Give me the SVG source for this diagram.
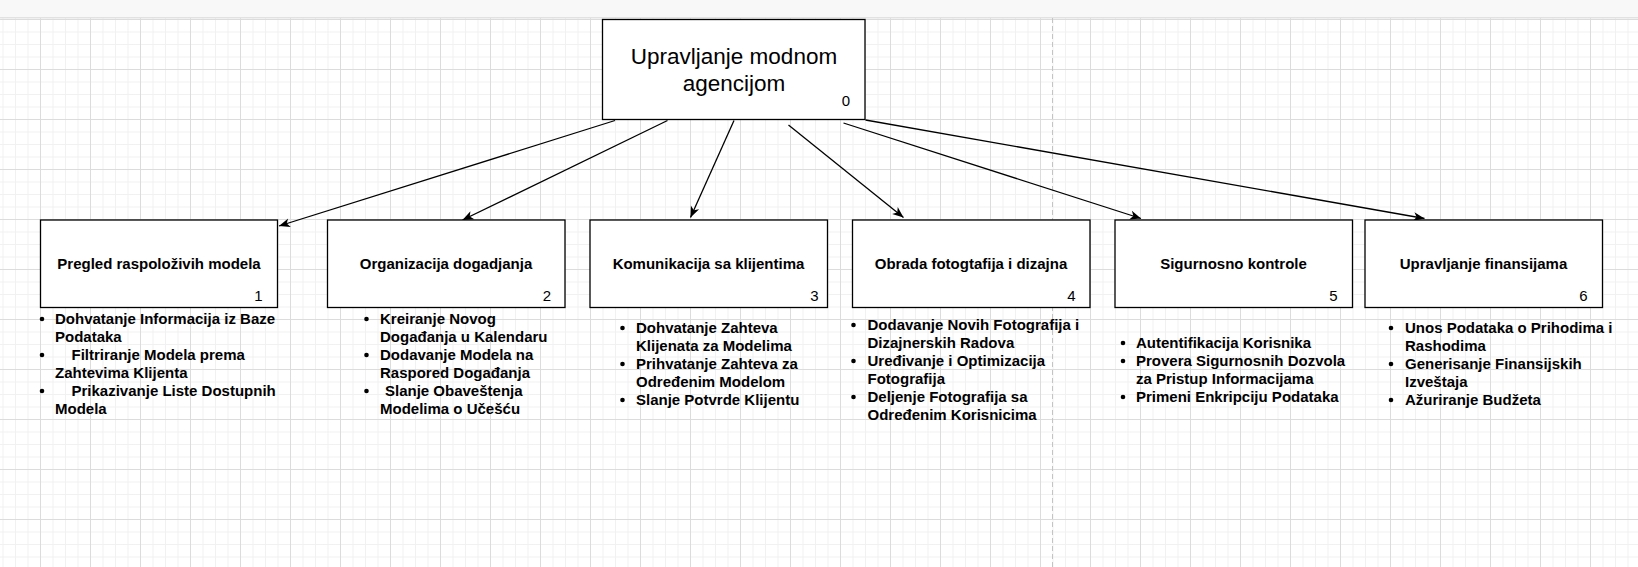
<svg xmlns="http://www.w3.org/2000/svg" width="1638" height="567" viewBox="0 0 1638 567">
  <defs>
    <style>
      .t { font-family: "Liberation Sans", Arial, Helvetica, sans-serif; fill: #000; }
      .title { font-size: 15px; font-weight: bold; text-anchor: middle; }
      .num { font-size: 15px; text-anchor: end; }
      .li { font-size: 15px; font-weight: bold; }
      .root { font-size: 22.5px; text-anchor: middle; }
      .box { fill: #fff; stroke: #000; stroke-width: 1.3; }
      .dot { fill: #000; }
      .edge { stroke: #000; stroke-width: 1.3; fill: none; marker-end: url(#arr); }
    </style>
    <pattern id="grid" patternUnits="userSpaceOnUse" x="40" y="19" width="50" height="50">
      <rect x="0" y="0" width="50" height="50" fill="#fff"/>
      <rect x="12.5" y="0" width="1" height="50" fill="#f1f1f1"/>
      <rect x="25" y="0" width="1" height="50" fill="#f1f1f1"/>
      <rect x="37.5" y="0" width="1" height="50" fill="#f1f1f1"/>
      <rect x="0" y="12.5" width="50" height="1" fill="#f1f1f1"/>
      <rect x="0" y="25" width="50" height="1" fill="#f1f1f1"/>
      <rect x="0" y="37.5" width="50" height="1" fill="#f1f1f1"/>
      <rect x="0" y="0" width="1" height="50" fill="#dcdcdc"/>
      <rect x="0" y="0" width="50" height="1" fill="#dcdcdc"/>
    </pattern>
    <marker id="arr" markerUnits="userSpaceOnUse" markerWidth="14" markerHeight="12" viewBox="-12 -6 14 12" refX="0" refY="0" orient="auto">
      <path d="M0,0 L-11,-4.5 L-8,0 L-11,4.5 Z" fill="#000"/>
    </marker>
  </defs>

  <g id="background">
    <rect x="0" y="0" width="1638" height="567" fill="#fff"/>
    <rect x="0" y="18" width="1638" height="549" fill="url(#grid)"/>
    <rect x="0" y="0" width="1638" height="17" fill="#f8f8f8"/>
    <rect x="0" y="17" width="1638" height="1.5" fill="#e2e2e2"/>
    <line x1="1052.5" y1="18" x2="1052.5" y2="567" stroke="#c4c4c4" stroke-width="1" stroke-dasharray="5 3"/>
  </g>

  <g id="connectors">
    <line class="edge" x1="615" y1="120.5" x2="279" y2="226"/>
    <line class="edge" x1="667.5" y1="120.5" x2="462.5" y2="220"/>
    <line class="edge" x1="734" y1="120.5" x2="690.5" y2="217.5"/>
    <line class="edge" x1="788.5" y1="125" x2="903.5" y2="217.5"/>
    <line class="edge" x1="843.5" y1="123" x2="1141" y2="218.5"/>
    <line class="edge" x1="865.5" y1="120" x2="1424.5" y2="218.5"/>
  </g>

  <g id="node0">
    <rect class="box" x="602.5" y="19.5" width="262.5" height="100"/>
    <text class="t root" x="734" y="64">Upravljanje modnom</text>
    <text class="t root" x="734" y="90.5">agencijom</text>
    <text class="t num" x="850" y="105.5">0</text>
  </g>

  <g id="node1">
    <rect class="box" x="40.5" y="220" width="237" height="87.5"/>
    <text class="t title" x="159" y="269">Pregled raspoloživih modela</text>
    <text class="t num" x="262.5" y="300.5">1</text>
    <circle class="dot" cx="42" cy="319" r="2.3"/>
    <circle class="dot" cx="42" cy="355" r="2.3"/>
    <circle class="dot" cx="42" cy="391" r="2.3"/>
    <text class="t li" x="55" y="324">Dohvatanje Informacija iz Baze</text>
    <text class="t li" x="55" y="342">Podataka</text>
    <text class="t li" x="71.5" y="360">Filtriranje Modela prema</text>
    <text class="t li" x="55" y="378">Zahtevima Klijenta</text>
    <text class="t li" x="71.5" y="396">Prikazivanje Liste Dostupnih</text>
    <text class="t li" x="55" y="414">Modela</text>
  </g>

  <g id="node2">
    <rect class="box" x="327.5" y="220" width="237.5" height="87.5"/>
    <text class="t title" x="446" y="269">Organizacija dogadjanja</text>
    <text class="t num" x="551" y="300.5">2</text>
    <circle class="dot" cx="366.5" cy="319" r="2.3"/>
    <circle class="dot" cx="366.5" cy="355" r="2.3"/>
    <circle class="dot" cx="366.5" cy="391" r="2.3"/>
    <text class="t li" x="380" y="324">Kreiranje Novog</text>
    <text class="t li" x="380" y="342">Događanja u Kalendaru</text>
    <text class="t li" x="380" y="360">Dodavanje Modela na</text>
    <text class="t li" x="380" y="378">Raspored Događanja</text>
    <text class="t li" x="385" y="396">Slanje Obaveštenja</text>
    <text class="t li" x="380" y="414">Modelima o Učešću</text>
  </g>

  <g id="node3">
    <rect class="box" x="590" y="220" width="237.5" height="87.5"/>
    <text class="t title" x="708.5" y="269">Komunikacija sa klijentima</text>
    <text class="t num" x="818.5" y="300.5">3</text>
    <circle class="dot" cx="622.5" cy="328" r="2.3"/>
    <circle class="dot" cx="622.5" cy="364" r="2.3"/>
    <circle class="dot" cx="622.5" cy="400" r="2.3"/>
    <text class="t li" x="636" y="333">Dohvatanje Zahteva</text>
    <text class="t li" x="636" y="351">Klijenata za Modelima</text>
    <text class="t li" x="636" y="369">Prihvatanje Zahteva za</text>
    <text class="t li" x="636" y="387">Određenim Modelom</text>
    <text class="t li" x="636" y="405">Slanje Potvrde Klijentu</text>
  </g>

  <g id="node4">
    <rect class="box" x="852.5" y="220" width="237.5" height="87.5"/>
    <text class="t title" x="971" y="269">Obrada fotogtafija i dizajna</text>
    <text class="t num" x="1075.5" y="300.5">4</text>
    <circle class="dot" cx="853.5" cy="325" r="2.3"/>
    <circle class="dot" cx="853.5" cy="361" r="2.3"/>
    <circle class="dot" cx="853.5" cy="397" r="2.3"/>
    <text class="t li" x="867.5" y="330">Dodavanje Novih Fotografija i</text>
    <text class="t li" x="867.5" y="348">Dizajnerskih Radova</text>
    <text class="t li" x="867.5" y="366">Uređivanje i Optimizacija</text>
    <text class="t li" x="867.5" y="384">Fotografija</text>
    <text class="t li" x="867.5" y="402">Deljenje Fotografija sa</text>
    <text class="t li" x="867.5" y="420">Određenim Korisnicima</text>
  </g>

  <g id="node5">
    <rect class="box" x="1115" y="220" width="237.5" height="87.5"/>
    <text class="t title" x="1233.5" y="269">Sigurnosno kontrole</text>
    <text class="t num" x="1337.5" y="300.5">5</text>
    <circle class="dot" cx="1123" cy="343" r="2.3"/>
    <circle class="dot" cx="1123" cy="361" r="2.3"/>
    <circle class="dot" cx="1123" cy="397" r="2.3"/>
    <text class="t li" x="1136" y="348">Autentifikacija Korisnika</text>
    <text class="t li" x="1136" y="366">Provera Sigurnosnih Dozvola</text>
    <text class="t li" x="1136" y="384">za Pristup Informacijama</text>
    <text class="t li" x="1136" y="402">Primeni Enkripciju Podataka</text>
  </g>

  <g id="node6">
    <rect class="box" x="1365" y="220" width="237.5" height="87.5"/>
    <text class="t title" x="1483.5" y="269">Upravljanje finansijama</text>
    <text class="t num" x="1587.5" y="300.5">6</text>
    <circle class="dot" cx="1391" cy="328" r="2.3"/>
    <circle class="dot" cx="1391" cy="364" r="2.3"/>
    <circle class="dot" cx="1391" cy="400" r="2.3"/>
    <text class="t li" x="1405" y="333">Unos Podataka o Prihodima i</text>
    <text class="t li" x="1405" y="351">Rashodima</text>
    <text class="t li" x="1405" y="369">Generisanje Finansijskih</text>
    <text class="t li" x="1405" y="387">Izveštaja</text>
    <text class="t li" x="1405" y="405">Ažuriranje Budžeta</text>
  </g>
</svg>
